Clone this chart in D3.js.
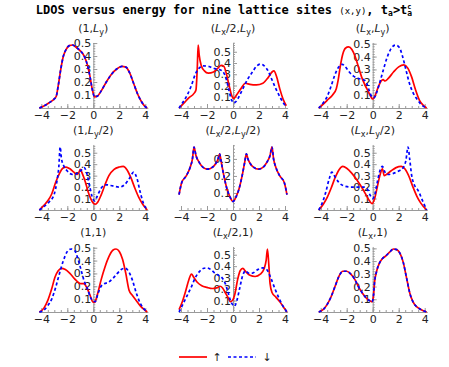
<!DOCTYPE html>
<html>
<head>
<meta charset="utf-8">
<script src="https://cdn.jsdelivr.net/npm/d3@7"></script>
<style>
body { margin: 0; background: #fff; }
svg { display: block; }
text { font-family: "DejaVu Sans", sans-serif; }
</style>
</head>
<body>
<svg></svg>
<script>
// LDOS curves, [energy, value] pairs
let up_1_Ly = [[-4.15,0],[-3.8,0.015],[-3.4,0.04],[-3.0,0.07],[-2.85,0.09],[-2.7,0.17],[-2.5,0.3],[-2.3,0.4],[-2.1,0.45],[-1.85,0.48],[-1.6,0.485],[-1.35,0.47],[-1.0,0.44],[-0.7,0.4],[-0.45,0.33],[-0.25,0.24],[-0.05,0.13],[0.1,0.085],[0.3,0.09],[0.6,0.13],[1.0,0.2],[1.4,0.26],[1.8,0.3],[2.2,0.32],[2.5,0.315],[2.8,0.27],[3.1,0.19],[3.4,0.11],[3.7,0.05],[3.95,0.015],[4.15,0]];
let dn_1_Ly = up_1_Ly;

let up_Lx2_Ly = [[-4.15,0],[-3.8,0.04],[-3.4,0.09],[-3.0,0.13],[-2.85,0.16],[-2.75,0.35],[-2.68,0.56],[-2.6,0.47],[-2.45,0.38],[-2.2,0.33],[-1.9,0.31],[-1.5,0.32],[-1.2,0.35],[-0.9,0.38],[-0.7,0.37],[-0.5,0.3],[-0.3,0.2],[-0.1,0.11],[0.05,0.085],[0.3,0.12],[0.6,0.17],[0.95,0.22],[1.3,0.21],[1.8,0.205],[2.3,0.22],[2.7,0.27],[3.0,0.32],[3.15,0.33],[3.35,0.28],[3.6,0.17],[3.85,0.08],[4.1,0.02]];
let dn_Lx2_Ly = [[-4.15,0],[-3.8,0.06],[-3.5,0.12],[-3.2,0.2],[-2.9,0.3],[-2.6,0.355],[-2.3,0.375],[-1.9,0.37],[-1.4,0.35],[-1.0,0.34],[-0.7,0.31],[-0.5,0.25],[-0.3,0.15],[-0.1,0.07],[0.07,0.045],[0.25,0.06],[0.5,0.11],[0.8,0.18],[1.1,0.25],[1.5,0.32],[1.8,0.37],[2.1,0.39],[2.4,0.375],[2.7,0.33],[3.0,0.25],[3.3,0.17],[3.6,0.1],[3.85,0.05],[4.1,0.01]];

let up_Lx_Ly = [[-4.15,0],[-3.8,0.03],[-3.5,0.06],[-3.1,0.1],[-2.8,0.15],[-2.65,0.22],[-2.5,0.32],[-2.3,0.42],[-2.1,0.465],[-1.85,0.475],[-1.6,0.455],[-1.35,0.4],[-1.1,0.32],[-0.85,0.24],[-0.6,0.18],[-0.35,0.13],[-0.15,0.09],[0.0,0.07],[0.2,0.1],[0.45,0.17],[0.65,0.21],[0.8,0.22],[0.95,0.21],[1.2,0.23],[1.6,0.28],[2.0,0.32],[2.4,0.335],[2.7,0.31],[3.0,0.24],[3.3,0.14],[3.6,0.06],[3.9,0.02],[4.15,0]];
let dn_Lx_Ly = [[-4.15,0],[-3.8,0.04],[-3.5,0.09],[-3.2,0.17],[-2.9,0.26],[-2.6,0.32],[-2.35,0.34],[-2.1,0.32],[-1.8,0.28],[-1.5,0.25],[-1.1,0.23],[-0.7,0.22],[-0.45,0.19],[-0.25,0.13],[-0.05,0.085],[0.1,0.08],[0.3,0.12],[0.55,0.2],[0.8,0.29],[1.1,0.39],[1.4,0.46],[1.75,0.49],[2.05,0.47],[2.3,0.4],[2.55,0.3],[2.8,0.2],[3.1,0.12],[3.4,0.07],[3.7,0.03],[4.15,0]];

let up_1_Ly2 = [[-4.15,0],[-3.8,0.04],[-3.5,0.08],[-3.2,0.14],[-2.9,0.24],[-2.6,0.32],[-2.35,0.365],[-2.1,0.375],[-1.8,0.36],[-1.5,0.33],[-1.25,0.31],[-1.1,0.33],[-1.0,0.355],[-0.85,0.32],[-0.6,0.24],[-0.4,0.16],[-0.2,0.1],[0.0,0.06],[0.15,0.05],[0.35,0.07],[0.6,0.13],[0.9,0.22],[1.2,0.3],[1.6,0.355],[2.0,0.375],[2.3,0.38],[2.6,0.35],[2.9,0.28],[3.2,0.19],[3.5,0.11],[3.8,0.05],[4.15,0]];
let dn_1_Ly2 = [[-4.15,0],[-3.8,0.03],[-3.4,0.07],[-3.0,0.14],[-2.8,0.25],[-2.65,0.38],[-2.55,0.55],[-2.45,0.45],[-2.25,0.38],[-2.0,0.34],[-1.6,0.31],[-1.2,0.32],[-0.9,0.35],[-0.7,0.37],[-0.5,0.32],[-0.3,0.22],[-0.1,0.12],[0.1,0.08],[0.3,0.12],[0.6,0.19],[1.0,0.22],[1.5,0.21],[2.0,0.2],[2.4,0.22],[2.8,0.28],[3.1,0.33],[3.35,0.28],[3.6,0.16],[3.85,0.06],[4.15,0]];

let up_Lx2_Ly2 = [[-4.15,0.09],[-3.95,0.16],[-3.6,0.2],[-3.3,0.25],[-3.12,0.3],[-3.0,0.37],[-2.85,0.32],[-2.6,0.28],[-2.3,0.25],[-1.95,0.24],[-1.6,0.25],[-1.35,0.27],[-1.15,0.3],[-1.03,0.33],[-0.9,0.28],[-0.7,0.2],[-0.45,0.12],[-0.25,0.08],[0.0,0.05],[0.25,0.08],[0.45,0.12],[0.7,0.2],[0.9,0.28],[1.03,0.33],[1.15,0.3],[1.35,0.27],[1.6,0.25],[1.95,0.24],[2.3,0.25],[2.6,0.28],[2.85,0.32],[3.0,0.37],[3.12,0.3],[3.3,0.25],[3.6,0.2],[3.95,0.16],[4.15,0.09]];
let dn_Lx2_Ly2 = up_Lx2_Ly2;

let up_Lx_Ly2 = [[-4.15,0],[-3.8,0.05],[-3.5,0.11],[-3.2,0.19],[-2.9,0.28],[-2.6,0.35],[-2.3,0.38],[-2.0,0.365],[-1.6,0.32],[-1.2,0.26],[-0.8,0.19],[-0.5,0.13],[-0.25,0.08],[-0.05,0.055],[0.15,0.1],[0.35,0.2],[0.55,0.3],[0.75,0.36],[0.88,0.3],[1.05,0.31],[1.4,0.34],[1.8,0.37],[2.2,0.38],[2.5,0.355],[2.8,0.29],[3.1,0.2],[3.4,0.12],[3.7,0.06],[4.15,0]];
let dn_Lx_Ly2 = [[-4.15,0],[-3.85,0.07],[-3.6,0.16],[-3.35,0.27],[-3.15,0.33],[-2.9,0.29],[-2.6,0.24],[-2.2,0.21],[-1.7,0.2],[-1.2,0.2],[-0.7,0.2],[-0.4,0.18],[-0.2,0.13],[0.0,0.1],[0.15,0.13],[0.35,0.24],[0.55,0.34],[0.75,0.38],[0.95,0.33],[1.2,0.31],[1.6,0.32],[2.0,0.34],[2.35,0.37],[2.55,0.43],[2.72,0.55],[2.85,0.44],[3.0,0.3],[3.2,0.22],[3.5,0.17],[3.8,0.09],[4.15,0]];

let up_1_1 = [[-4.15,0],[-3.8,0.03],[-3.5,0.09],[-3.2,0.18],[-2.95,0.27],[-2.7,0.32],[-2.45,0.34],[-2.15,0.33],[-1.8,0.3],[-1.45,0.26],[-1.15,0.23],[-0.95,0.22],[-0.75,0.22],[-0.5,0.19],[-0.25,0.13],[-0.05,0.08],[0.1,0.075],[0.3,0.13],[0.6,0.25],[0.9,0.35],[1.2,0.43],[1.5,0.48],[1.75,0.49],[2.0,0.47],[2.25,0.41],[2.5,0.3],[2.75,0.17],[3.0,0.13],[3.3,0.09],[3.6,0.05],[3.9,0.02],[4.15,0]];
let dn_1_1 = [[-4.15,0],[-3.8,0.015],[-3.5,0.05],[-3.2,0.1],[-2.9,0.19],[-2.6,0.3],[-2.3,0.4],[-2.0,0.47],[-1.7,0.49],[-1.45,0.48],[-1.2,0.42],[-0.95,0.33],[-0.7,0.24],[-0.45,0.18],[-0.2,0.11],[0.0,0.085],[0.15,0.08],[0.35,0.14],[0.6,0.2],[0.85,0.22],[1.15,0.23],[1.5,0.26],[1.85,0.3],[2.15,0.33],[2.45,0.34],[2.75,0.31],[3.0,0.25],[3.3,0.15],[3.6,0.07],[3.85,0.03],[4.15,0]];

let up_Lx2_1 = [[-4.15,0.02],[-3.9,0.09],[-3.65,0.18],[-3.4,0.28],[-3.2,0.33],[-3.0,0.3],[-2.75,0.26],[-2.4,0.23],[-2.0,0.215],[-1.6,0.205],[-1.25,0.21],[-1.0,0.225],[-0.8,0.21],[-0.6,0.17],[-0.4,0.13],[-0.2,0.09],[-0.05,0.1],[0.15,0.16],[0.35,0.28],[0.55,0.36],[0.75,0.38],[1.0,0.35],[1.3,0.32],[1.7,0.31],[2.1,0.33],[2.4,0.38],[2.55,0.45],[2.65,0.55],[2.75,0.42],[2.85,0.25],[3.0,0.17],[3.3,0.13],[3.6,0.09],[3.9,0.04],[4.15,0]];
let dn_Lx2_1 = [[-4.15,0],[-3.8,0.08],[-3.5,0.15],[-3.2,0.22],[-2.9,0.3],[-2.6,0.35],[-2.3,0.38],[-2.0,0.385],[-1.7,0.37],[-1.4,0.34],[-1.1,0.32],[-0.85,0.3],[-0.6,0.25],[-0.4,0.18],[-0.2,0.1],[0.0,0.06],[0.1,0.05],[0.3,0.1],[0.5,0.2],[0.75,0.32],[0.95,0.36],[1.2,0.34],[1.5,0.34],[1.9,0.37],[2.3,0.385],[2.6,0.37],[2.9,0.3],[3.2,0.21],[3.5,0.13],[3.8,0.06],[4.15,0]];

let up_Lx_1 = [[-4.15,0],[-3.8,0.02],[-3.5,0.06],[-3.2,0.12],[-2.9,0.2],[-2.6,0.28],[-2.3,0.32],[-2.0,0.32],[-1.7,0.3],[-1.4,0.26],[-1.1,0.2],[-0.8,0.15],[-0.5,0.11],[-0.25,0.09],[-0.05,0.08],[0.05,0.12],[0.15,0.24],[0.3,0.32],[0.5,0.38],[0.75,0.42],[1.0,0.44],[1.3,0.47],[1.6,0.495],[1.85,0.49],[2.1,0.46],[2.35,0.39],[2.6,0.27],[2.85,0.15],[3.1,0.08],[3.4,0.04],[3.7,0.02],[4.15,0]];
let dn_Lx_1 = up_Lx_1;

// panel titles: [prefix, has L, subscript, suffix]
let titles = [
	["(1,", "L", "y", ")"],
	["(", "L", "x", "/2,Ly)"],
	["(", "L", "x", ",Ly)"],
	["(1,", "L", "y", "/2)"],
	["(", "L", "x", "/2,Ly/2)"],
	["(", "L", "x", ",Ly/2)"],
	["(1,1)", "", "", ""],
	["(", "L", "x", "/2,1)"],
	["(", "L", "x", ",1)"]
];
let upSeries = [up_1_Ly, up_Lx2_Ly, up_Lx_Ly, up_1_Ly2, up_Lx2_Ly2, up_Lx_Ly2, up_1_1, up_Lx2_1, up_Lx_1];
let dnSeries = [dn_1_Ly, dn_Lx2_Ly, dn_Lx_Ly, dn_1_Ly2, dn_Lx2_Ly2, dn_Lx_Ly2, dn_1_1, dn_Lx2_1, dn_Lx_1];
let xTicks = [-4, -2, 0, 2, 4];

let svgWidth = 449, svgHeight = 367;
let svg = d3.select("svg").attr("width", svgWidth).attr("height", svgHeight);

let colX = [93.3, 233, 372.7];
let rowY = [108, 210, 312];
let pxPerUnit = 13;
let plotH = 63;
let axisColor = "#9a9a9a";

// main title
let mt = svg.append("text")
	.attr("x", 224).attr("y", 14)
	.attr("text-anchor", "middle")
	.style("font-family", "'DejaVu Sans Mono', monospace")
	.style("font-weight", "bold")
	.style("font-size", "12px");
mt.append("tspan").text("LDOS versus energy for nine lattice sites ");
mt.append("tspan").style("font-size", "9px").style("font-weight", "normal").text("(x,y)");
mt.append("tspan").text(", t");
mt.append("tspan").style("font-size", "8px").attr("dy", 2).text("a");
mt.append("tspan").attr("dy", -2).text(">t");
mt.append("tspan").style("font-size", "8px").attr("dy", 2).text("a");
mt.append("tspan").style("font-size", "7px").attr("dx", -4.8).attr("dy", -7.5).text("c");

function subTitle(g, t) {
	// draws "(L_x/2,L_y)" style labels with italic L and subscripts
	let txt = g.append("text").attr("text-anchor", "middle").style("font-size", "11px").attr("fill", "#222");
	let parts = [];
	let s = t[0];
	if (t[1]) {
		parts.push({t: s});
		parts.push({t: "L", it: true});
		parts.push({t: t[2], sub: true});
		let rest = t[3];
		let i = rest.indexOf("L");
		if (i >= 0) {
			parts.push({t: rest.slice(0, i)});
			parts.push({t: "L", it: true});
			parts.push({t: rest[i + 1], sub: true});
			parts.push({t: rest.slice(i + 2)});
		} else {
			parts.push({t: rest});
		}
	} else {
		parts.push({t: s});
	}
	let shifted = false;
	parts.forEach(function(p) {
		let ts = txt.append("tspan").text(p.t);
		if (p.it) ts.style("font-style", "italic");
		if (p.sub) {
			ts.style("font-size", "8px").attr("dy", 3);
			shifted = true;
		} else if (shifted) {
			ts.attr("dy", -3);
			shifted = false;
		}
	});
	return txt;
}

let line = d3.line().curve(d3.curveMonotoneX);

for (let i = 0; i < 9; i++) {
	let c = i % 3, r = Math.floor(i / 3);
	let x0 = colX[c], ay = rowY[r];
	let up = upSeries[i], dn = dnSeries[i];
	let ymax = d3.max(up.concat(dn), function(d) {return d[1];});
	let ytop = ymax * 1.04;

	let xscale = d3.scaleLinear().domain([-4.2, 4.2]).range([x0 - 4.2 * pxPerUnit, x0 + 4.2 * pxPerUnit]);
	let yscale = d3.scaleLinear().domain([0, ytop]).range([ay, ay - plotH * 1.04]);

	let g = svg.append("g");

	// minor ticks
	g.append("g")
		.attr("transform", "translate(0," + ay + ")")
		.call(d3.axisBottom(xscale).tickValues(d3.range(-4, 4.01, 0.5)).tickSize(-2).tickFormat(""))
		.call(function(a) {a.select(".domain").remove();});
	g.append("g")
		.attr("transform", "translate(" + xscale(0) + ",0)")
		.call(d3.axisLeft(yscale).tickValues(d3.range(0.02, ytop, 0.02)).tickSize(-2).tickFormat(""))
		.call(function(a) {a.select(".domain").remove();});

	// x axis
	g.append("g")
		.attr("class", "axis axis-x")
		.attr("transform", "translate(0," + ay + ")")
		.call(d3.axisBottom(xscale).tickValues(xTicks).tickSize(-4).tickSizeOuter(0).tickPadding(3));
	// y axis
	let yt = d3.range(0.1, ytop + 0.005, 0.1);
	g.append("g")
		.attr("class", "axis axis-y")
		.attr("transform", "translate(" + xscale(0) + ",0)")
		.call(d3.axisLeft(yscale).tickValues(yt).tickSize(-4).tickSizeOuter(0).tickPadding(2).tickFormat(d3.format(".1f")));

	g.selectAll(".domain, .tick line").attr("stroke", axisColor);
	g.selectAll(".tick text").attr("fill", "#222").style("font-size", "11px").style("font-family", "'DejaVu Sans', sans-serif");

	subTitle(g, titles[i]).attr("x", x0).attr("y", ay - 76);

	line.x(function(d) {return xscale(d[0]);}).y(function(d) {return yscale(d[1]);});
	g.append("path").datum(up)
		.attr("fill", "none").attr("stroke", "#ff0000").attr("stroke-width", 1.7)
		.attr("d", line);
	g.append("path").datum(dn)
		.attr("fill", "none").attr("stroke", "#0000ff").attr("stroke-width", 1.7)
		.attr("stroke-dasharray", "3,2.5")
		.attr("d", line);
}

// legend
let lg = svg.append("g");
lg.append("line").attr("x1", 179).attr("x2", 207).attr("y1", 357).attr("y2", 357)
	.attr("stroke", "#ff0000").attr("stroke-width", 1.7);
lg.append("text").attr("x", 217).attr("y", 361).attr("text-anchor", "middle").style("font-size", "11px").attr("fill", "#222").text("↑");
lg.append("line").attr("x1", 228).attr("x2", 256).attr("y1", 357).attr("y2", 357)
	.attr("stroke", "#0000ff").attr("stroke-width", 1.7).attr("stroke-dasharray", "3,2.5");
lg.append("text").attr("x", 267).attr("y", 361).attr("text-anchor", "middle").style("font-size", "11px").attr("fill", "#222").text("↓");
</script>
</body>
</html>
